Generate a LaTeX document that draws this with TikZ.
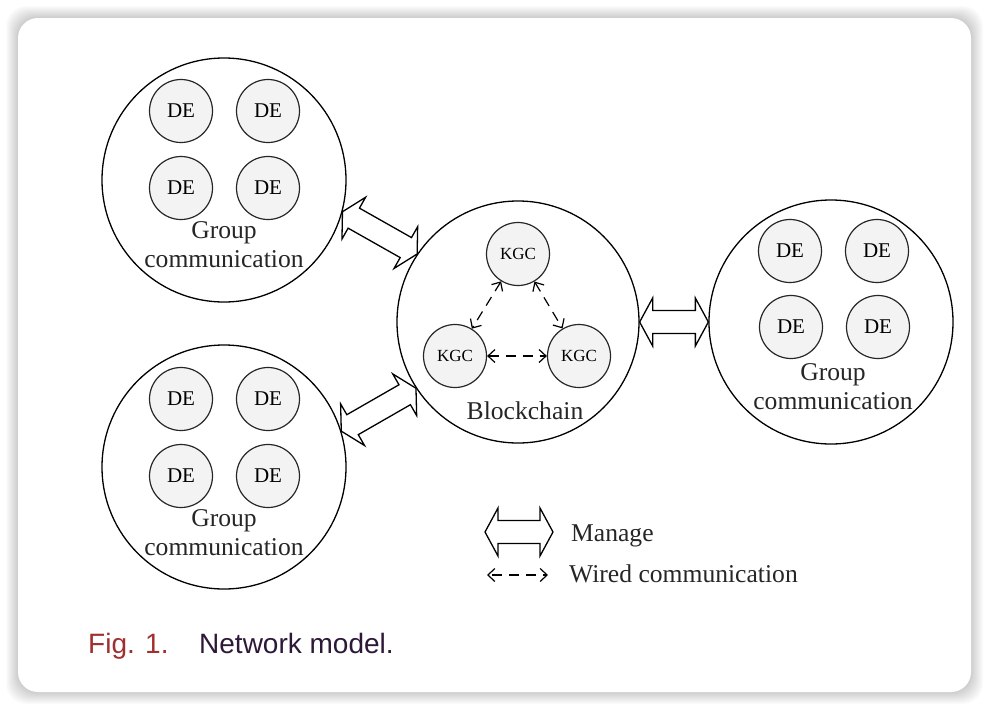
\documentclass[tikz,border=0pt]{standalone}
\usepackage{fontspec}
\setmainfont{Liberation Serif}
\newfontfamily\capfont{Liberation Sans}
\usetikzlibrary{calc,arrows.meta}
\definecolor{defill}{HTML}{F3F3F3}
\definecolor{figred}{HTML}{A0302F}
\definecolor{figpurple}{HTML}{2D1838}
\tikzset{
  big/.style={circle, draw, line width=1.3pt, minimum size=244pt, inner sep=0pt},
  de/.style={circle, draw=black!85, fill=defill, line width=1.2pt, minimum size=63pt, inner sep=0pt, font=\fontsize{21}{25}\selectfont},
  kgc/.style={circle, draw=black!85, fill=defill, line width=1.2pt, minimum size=63pt, inner sep=0pt, font=\fontsize{17}{20}\selectfont},
  lbl/.style={font=\fontsize{25.6}{30}\selectfont, anchor=base, inner sep=0pt, text=black!85},
  wired/.style={line width=1.2pt, dash pattern=on 10pt off 7pt, {Straight Barb[length=7pt,width=13pt]}-{Straight Barb[length=7pt,width=13pt]}},
  mline/.style={line width=1.3pt, fill=white, line join=miter},
}
\newcommand\manarrow[2]{%
  \coordinate (ha) at ($(#1)!13pt!(#2)$);
  \coordinate (hb) at ($(#2)!13pt!(#1)$);
  \draw[mline] (#1) -- ($(ha)!24pt!90:(#2)$) -- ($(ha)!11.5pt!90:(#2)$)
    -- ($(hb)!11.5pt!-90:(#1)$) -- ($(hb)!24pt!-90:(#1)$) -- (#2)
    -- ($(hb)!24pt!90:(#1)$) -- ($(hb)!11.5pt!90:(#1)$)
    -- ($(ha)!11.5pt!-90:(#2)$) -- ($(ha)!24pt!-90:(#2)$) -- cycle;}
\begin{document}
\begin{tikzpicture}[x=1pt,y=-1pt]
\useasboundingbox (0,0) rectangle (989,710);
\fill[white] (0,0) rectangle (989,710);
% card shadow
\foreach \i in {1,...,12}{
  \fill[black,opacity=0.014,rounded corners=20pt] (18-\i,18-\i) rectangle (971+\i,692+\i);
}
\fill[white,rounded corners=20pt] (18,18) rectangle (971,692);

% big circles
\node[big] (G1) at (224,180) {};
\node[big] (G2) at (224,467) {};
\node[big, minimum size=242pt] (B) at (518,322) {};
\node[big] (G3) at (831,322) {};

% DE nodes
\node[de] (d11) at (181,111) {DE};
\node[de] (d12) at (268,111) {DE};
\node[de] (d13) at (181,188) {DE};
\node[de] (d14) at (268,188) {DE};
\node[de] (d21) at (181,399) {DE};
\node[de] (d22) at (268,399) {DE};
\node[de] (d23) at (181,476) {DE};
\node[de] (d24) at (268,476) {DE};
\node[de] (d31) at (790,251) {DE};
\node[de] (d32) at (877,251) {DE};
\node[de] (d33) at (791,327) {DE};
\node[de] (d34) at (878,327) {DE};

% group labels
\node[lbl] (g1a) at (224,238) {Group};
\node[lbl] (g1b) at (224,267.5) {communication};
\node[lbl] (g2a) at (224,526) {Group};
\node[lbl] (g2b) at (224,555.5) {communication};
\node[lbl] (g3a) at (833,380) {Group};
\node[lbl] (g3b) at (833,409.5) {communication};

% KGC
\node[kgc] (k1) at (518,254) {KGC};
\node[kgc] (k2) at (455,356) {KGC};
\node[kgc] (k3) at (579,356) {KGC};
\node[lbl] (bc) at (525,419) {Blockchain};

\draw[wired] (k1) -- (k2);
\draw[wired] (k1) -- (k3);
\draw[wired] (k2) -- (k3);

% manage arrows
\manarrow{G1.-15}{B.146}
\manarrow{G2.17}{B.-147}
\manarrow{B.0}{G3.180}

% legend
\coordinate (la) at (485,532);
\coordinate (lb) at (553,532);
\manarrow{la}{lb}
\node[lbl, anchor=base west] (lm) at (571,541) {Manage};
\coordinate (lc) at (487,575);
\coordinate (ld) at (548,575);
\draw[wired, dash pattern=on 10pt off 7pt, dash phase=-4pt] (lc) -- (ld);
\node[lbl, anchor=base west] (lw) at (569,582) {Wired communication};

% caption
\node[anchor=base west, inner sep=0pt, font=\capfont\fontsize{28}{32}\selectfont, text=figred] (fig) at (88,653) {Fig. 1.};
\node[anchor=base west, inner sep=0pt, font=\capfont\fontsize{28}{32}\selectfont, text=figpurple] (cap) at (199,653) {Network model.};
\end{tikzpicture}
\end{document}
